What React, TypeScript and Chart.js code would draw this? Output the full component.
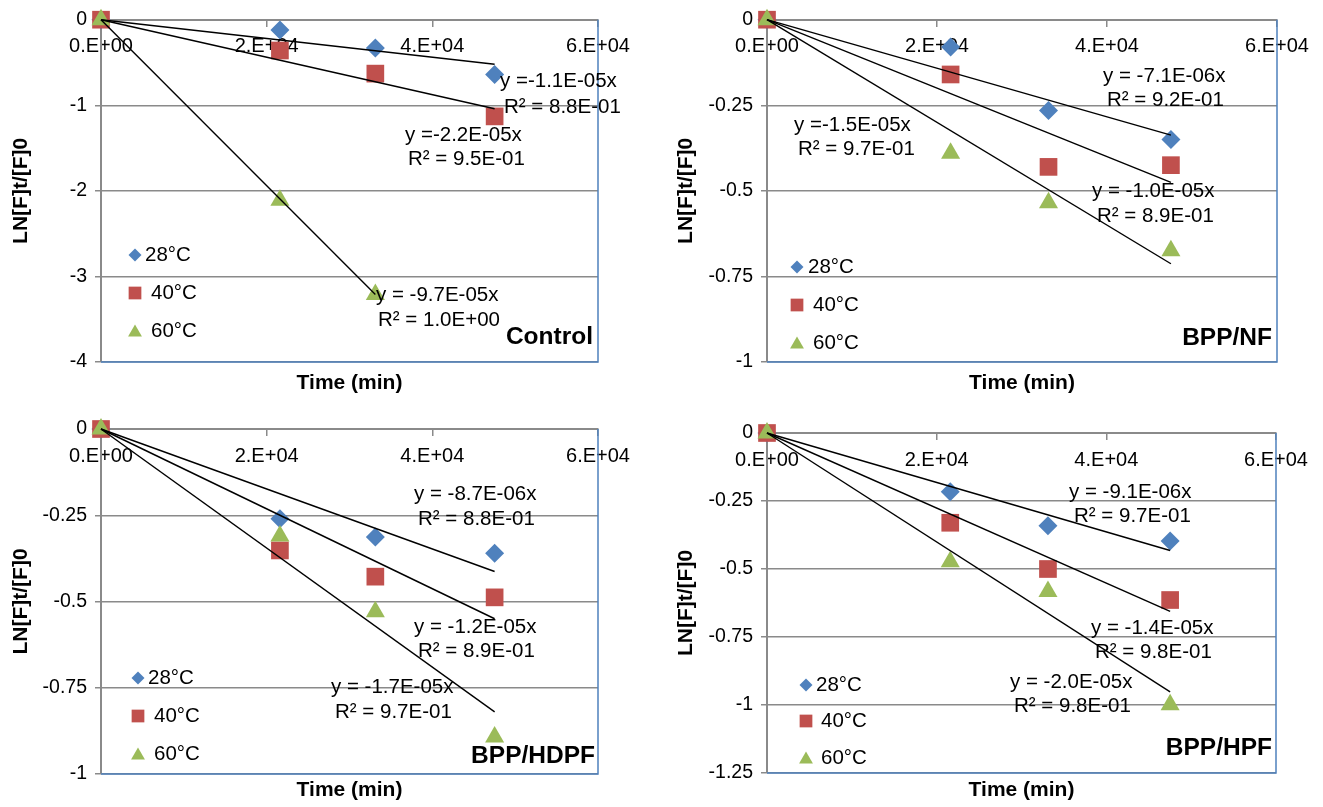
import React, { useEffect, useRef } from "react";
import { Chart, registerables } from "chart.js";
import { drawPoint } from "chart.js/helpers";

Chart.register(...registerables);

// ---------------- data ----------------
const TIMES = [0, 21600, 33120, 47520];
const SERIES_LABELS = ["28°C", "40°C", "60°C"];
const X_TICKS = [0, 20000, 40000, 60000];

// Control
const CONTROL_28 = [0, -0.12, -0.33, -0.64];
const CONTROL_40 = [0, -0.36, -0.63, -1.13];
const CONTROL_60 = [0, -2.11, -3.21];
const CONTROL_TREND_END = [-0.52, -1.04, -3.21];
const CONTROL_Y_TICKS = [0, -1, -2, -3, -4];
const CONTROL_EQ = ["y =-1.1E-05x", "R² = 8.8E-01", "y =-2.2E-05x", "R² = 9.5E-01", "y = -9.7E-05x", "R² = 1.0E+00"];

// BPP/NF
const NF_28 = [0, -0.08, -0.265, -0.35];
const NF_40 = [0, -0.16, -0.43, -0.425];
const NF_60 = [0, -0.39, -0.535, -0.675];
const NF_TREND_END = [-0.337, -0.475, -0.713];
const NF_Y_TICKS = [0, -0.25, -0.5, -0.75, -1];
const NF_EQ = ["y = -7.1E-06x", "R² = 9.2E-01", "y =-1.5E-05x", "R² = 9.7E-01", "y = -1.0E-05x", "R² = 8.9E-01"];

// BPP/HDPF
const HDPF_28 = [0, -0.26, -0.313, -0.36];
const HDPF_40 = [0, -0.352, -0.428, -0.488];
const HDPF_60 = [0, -0.31, -0.53, -0.893];
const HDPF_TREND_END = [-0.413, -0.55, -0.82];
const HDPF_Y_TICKS = [0, -0.25, -0.5, -0.75, -1];
const HDPF_EQ = ["y = -8.7E-06x", "R² = 8.8E-01", "y = -1.2E-05x", "R² = 8.9E-01", "y = -1.7E-05x", "R² = 9.7E-01"];

// BPP/HPF
const HPF_28 = [0, -0.216, -0.341, -0.397];
const HPF_40 = [0, -0.33, -0.5, -0.614];
const HPF_60 = [0, -0.473, -0.583, -0.999];
const HPF_TREND_END = [-0.432, -0.656, -0.952];
const HPF_Y_TICKS = [0, -0.25, -0.5, -0.75, -1, -1.25];
const HPF_EQ = ["y = -9.1E-06x", "R² = 9.7E-01", "y = -1.4E-05x", "R² = 9.8E-01", "y = -2.0E-05x", "R² = 9.8E-01"];

// ---------------- styles ----------------
const FONT = "'Liberation Sans', Arial, Helvetica, sans-serif";
const COLORS = ["#4F81BD", "#C0504D", "#9BBB59"];
const STYLES = ["rectRot", "rect", "triangle"];
const POINT_R = [9.5, 12.5, 11];
const LEGEND_R = [6.5, 9, 8];
const GRID = "#8a8a8a";
const BORDER_BLUE = "#4F81BD";
const TEXT_SIZE = 20.5;
const TITLE_SIZE = 21;

type TextItem = { text: string; x: number; y: number };
type PanelCfg = {
  id: string;
  name: string;
  cell: { x: number; y: number; w: number; h: number };
  plot: { left: number; right: number; top: number; bottom: number };
  yTitleX: number;
  xTitleY: number;
  yTicks: number[];
  series: number[][];
  trendEnd: number[];
  texts: TextItem[];
  nameAt: { x: number; y: number };
  legend: { markerX: number; textX: number[]; y: number[] };
};

const PANELS: PanelCfg[] = [
  {
    id: "control",
    name: "Control",
    cell: { x: 0, y: 0, w: 660, h: 403 },
    plot: { left: 101, right: 598, top: 18, bottom: 362 },
    yTitleX: 21,
    xTitleY: 383,
    yTicks: CONTROL_Y_TICKS,
    series: [CONTROL_28, CONTROL_40, CONTROL_60],
    trendEnd: CONTROL_TREND_END,
    texts: [
      { text: CONTROL_EQ[0], x: 500, y: 81 },
      { text: CONTROL_EQ[1], x: 504, y: 107 },
      { text: CONTROL_EQ[2], x: 405, y: 135 },
      { text: CONTROL_EQ[3], x: 408, y: 159 },
      { text: CONTROL_EQ[4], x: 376, y: 295 },
      { text: CONTROL_EQ[5], x: 378, y: 320 },
    ],
    nameAt: { x: 593, y: 337 },
    legend: { markerX: 135, textX: [145, 151, 151], y: [255, 293, 331] },
  },
  {
    id: "nf",
    name: "BPP/NF",
    cell: { x: 660, y: 0, w: 663, h: 403 },
    plot: { left: 767, right: 1277, top: 19, bottom: 362 },
    yTitleX: 686,
    xTitleY: 383,
    yTicks: NF_Y_TICKS,
    series: [NF_28, NF_40, NF_60],
    trendEnd: NF_TREND_END,
    texts: [
      { text: NF_EQ[0], x: 1103, y: 76 },
      { text: NF_EQ[1], x: 1107, y: 100 },
      { text: NF_EQ[2], x: 794, y: 125 },
      { text: NF_EQ[3], x: 798, y: 149 },
      { text: NF_EQ[4], x: 1092, y: 191 },
      { text: NF_EQ[5], x: 1097, y: 216 },
    ],
    nameAt: { x: 1272, y: 338 },
    legend: { markerX: 797, textX: [808, 813, 813], y: [267, 305, 343] },
  },
  {
    id: "hdpf",
    name: "BPP/HDPF",
    cell: { x: 0, y: 403, w: 660, h: 404 },
    plot: { left: 101, right: 598, top: 429, bottom: 774 },
    yTitleX: 21,
    xTitleY: 793,
    yTicks: HDPF_Y_TICKS,
    series: [HDPF_28, HDPF_40, HDPF_60],
    trendEnd: HDPF_TREND_END,
    texts: [
      { text: HDPF_EQ[0], x: 414, y: 494 },
      { text: HDPF_EQ[1], x: 418, y: 519 },
      { text: HDPF_EQ[2], x: 414, y: 627 },
      { text: HDPF_EQ[3], x: 418, y: 651 },
      { text: HDPF_EQ[4], x: 331, y: 687 },
      { text: HDPF_EQ[5], x: 335, y: 712 },
    ],
    nameAt: { x: 595, y: 756 },
    legend: { markerX: 138, textX: [148, 154, 154], y: [678, 716, 754] },
  },
  {
    id: "hpf",
    name: "BPP/HPF",
    cell: { x: 660, y: 403, w: 663, h: 404 },
    plot: { left: 767, right: 1276, top: 433, bottom: 773 },
    yTitleX: 686,
    xTitleY: 793,
    yTicks: HPF_Y_TICKS,
    series: [HPF_28, HPF_40, HPF_60],
    trendEnd: HPF_TREND_END,
    texts: [
      { text: HPF_EQ[0], x: 1069, y: 492 },
      { text: HPF_EQ[1], x: 1074, y: 516 },
      { text: HPF_EQ[2], x: 1091, y: 628 },
      { text: HPF_EQ[3], x: 1095, y: 652 },
      { text: HPF_EQ[4], x: 1010, y: 682 },
      { text: HPF_EQ[5], x: 1014, y: 706 },
    ],
    nameAt: { x: 1272, y: 748 },
    legend: { markerX: 806, textX: [816, 821, 821], y: [685, 721, 758] },
  },
];

function fmtSci(v: number): string {
  if (v === 0) return "0.E+00";
  const e = Math.floor(Math.log10(Math.abs(v)));
  const m = Math.round(v / Math.pow(10, e));
  return `${m}.E+${String(e).padStart(2, "0")}`;
}

function makeOverlay(cfg: PanelCfg) {
  const ox = cfg.cell.x;
  const oy = cfg.cell.y;
  return {
    id: "overlay_" + cfg.id,
    beforeDatasetsDraw(chart: any) {
      const { ctx, chartArea: a } = chart;
      ctx.save();
      ctx.strokeStyle = BORDER_BLUE;
      ctx.lineWidth = 1.5;
      ctx.beginPath();
      ctx.moveTo(a.left, a.bottom);
      ctx.lineTo(a.right, a.bottom);
      ctx.lineTo(a.right, a.top);
      ctx.stroke();
      ctx.restore();
    },
    afterDraw(chart: any) {
      const ctx = chart.ctx;
      ctx.save();
      // legend
      SERIES_LABELS.forEach((lab, i) => {
        const r = LEGEND_R[i];
        const my = cfg.legend.y[i] - oy + (STYLES[i] === "triangle" ? r * 0.2 : 0);
        ctx.fillStyle = COLORS[i];
        drawPoint(ctx, { pointStyle: STYLES[i], radius: r, rotation: 0, borderWidth: 0 } as any, cfg.legend.markerX - ox, my);
        ctx.fillStyle = "#000";
        ctx.font = `${TEXT_SIZE}px ${FONT}`;
        ctx.textAlign = "left";
        ctx.textBaseline = "middle";
        ctx.fillText(lab, cfg.legend.textX[i] - ox, cfg.legend.y[i] - oy);
      });
      // equations
      ctx.fillStyle = "#000";
      ctx.font = `${TEXT_SIZE}px ${FONT}`;
      ctx.textAlign = "left";
      ctx.textBaseline = "middle";
      cfg.texts.forEach((t) => ctx.fillText(t.text, t.x - ox, t.y - oy));
      // panel name
      ctx.font = `bold 24.5px ${FONT}`;
      ctx.textAlign = "right";
      ctx.fillText(cfg.name, cfg.nameAt.x - ox, cfg.nameAt.y - oy);
      ctx.restore();
    },
  };
}

function Panel({ cfg }: { cfg: PanelCfg }) {
  const ref = useRef<HTMLCanvasElement | null>(null);
  useEffect(() => {
    const { cell, plot } = cfg;
    const rel = {
      left: plot.left - cell.x,
      right: plot.right - cell.x,
      top: plot.top - cell.y,
      bottom: plot.bottom - cell.y,
    };
    const titleOffset = 4 + (TITLE_SIZE * 1.2) / 2;
    const padL = Math.max(0, cfg.yTitleX - cell.x - titleOffset);
    const padB = Math.max(0, cell.h - (cfg.xTitleY - cell.y + titleOffset));
    const yWidth = rel.left - padL;
    const xbHeight = cell.h - padB - rel.bottom;

    const scatterSets = cfg.series.map((vals, i) => ({
      type: "scatter" as const,
      label: SERIES_LABELS[i],
      data: vals.map((v, k) => ({ x: TIMES[k], y: v })),
      backgroundColor: COLORS[i],
      borderColor: COLORS[i],
      pointStyle: STYLES[i],
      pointRadius: POINT_R[i],
      pointBorderWidth: 0,
      showLine: false,
      clip: false,
      order: 3 - i,
    }));
    const trendSets = cfg.series.map((vals, i) => ({
      type: "scatter" as const,
      label: "trend " + SERIES_LABELS[i],
      data: [
        { x: TIMES[0], y: 0 },
        { x: TIMES[vals.length - 1], y: cfg.trendEnd[i] },
      ],
      borderColor: "#000",
      backgroundColor: "#000",
      borderWidth: 1.4,
      pointRadius: 0,
      showLine: true,
      clip: false,
      order: 0,
    }));

    const yMin = Math.min(...cfg.yTicks);
    const yMax = Math.max(...cfg.yTicks);

    const chart = new Chart(ref.current as HTMLCanvasElement, {
      type: "scatter",
      data: { datasets: [...trendSets, ...scatterSets] as any },
      options: {
        responsive: false,
        animation: false,
        events: [],
        layout: {
          padding: { left: padL, right: cell.w - rel.right, top: rel.top, bottom: padB },
        },
        plugins: {
          legend: { display: false },
          tooltip: { enabled: false },
        },
        scales: {
          x: {
            type: "linear",
            position: { y: 0 } as any,
            min: X_TICKS[0],
            max: X_TICKS[X_TICKS.length - 1],
            afterBuildTicks: (s: any) => {
              s.ticks = X_TICKS.map((v) => ({ value: v }));
            },
            ticks: {
              callback: (v: any) => fmtSci(Number(v)),
              color: "#000",
              font: { family: FONT, size: 20 },
              padding: 9,
              maxRotation: 0,
              autoSkip: false,
            },
            grid: { drawOnChartArea: false, drawTicks: true, tickLength: 6, color: GRID, lineWidth: 1.5 },
            border: { display: true, color: GRID, width: 2 },
          },
          xb: {
            type: "linear",
            position: "bottom",
            min: X_TICKS[0],
            max: X_TICKS[X_TICKS.length - 1],
            ticks: { display: false },
            grid: { display: false, drawTicks: false },
            border: { display: false },
            title: {
              display: true,
              text: "Time (min)",
              color: "#000",
              font: { family: FONT, size: TITLE_SIZE, weight: "bold" },
            },
            afterFit: (s: any) => {
              s.height = xbHeight;
            },
          },
          y: {
            type: "linear",
            position: "left",
            min: yMin,
            max: yMax,
            afterBuildTicks: (s: any) => {
              s.ticks = cfg.yTicks.map((v) => ({ value: v }));
            },
            ticks: {
              callback: (v: any) => String(Number(Number(v).toFixed(2))),
              color: "#000",
              font: { family: FONT, size: 19.5 },
              padding: 8,
              autoSkip: false,
            },
            grid: { color: GRID, lineWidth: 1.5, tickLength: 6, drawTicks: true },
            border: { display: true, color: GRID, width: 2 },
            title: {
              display: true,
              text: "LN[F]t/[F]0",
              color: "#000",
              font: { family: FONT, size: TITLE_SIZE, weight: "bold" },
            },
            afterFit: (s: any) => {
              s.width = yWidth;
            },
          },
        },
      },
      plugins: [makeOverlay(cfg)],
    });
    return () => chart.destroy();
  }, [cfg]);

  return (
    <canvas
      ref={ref}
      width={cfg.cell.w}
      height={cfg.cell.h}
      style={{
        position: "absolute",
        left: cfg.cell.x,
        top: cfg.cell.y,
        width: cfg.cell.w,
        height: cfg.cell.h,
        display: "block",
      }}
    />
  );
}

export default function App() {
  return (
    <div
      style={{
        position: "absolute",
        left: 0,
        top: 0,
        width: 1323,
        height: 807,
        background: "#fff",
        overflow: "hidden",
      }}
    >
      {PANELS.map((p) => (
        <Panel key={p.id} cfg={p} />
      ))}
    </div>
  );
}
